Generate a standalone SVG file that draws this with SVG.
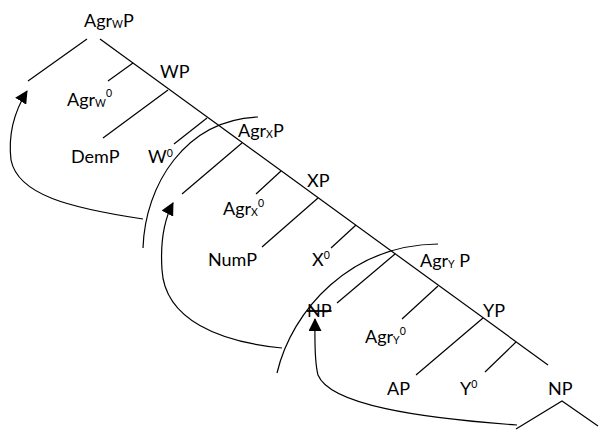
<svg xmlns="http://www.w3.org/2000/svg" width="599" height="430" viewBox="0 0 599 430">
<style>
text{font-family:Lato,"Liberation Sans",sans-serif;font-size:18px;fill:#000}
.s{font-size:10.5px}
.e{stroke:#000;stroke-width:1.2;fill:none}
.a{stroke:#000;stroke-width:1.2;fill:none;marker-end:url(#ah)}
</style>
<defs>
<marker id="ah" markerUnits="userSpaceOnUse" markerWidth="13" markerHeight="13" viewBox="0 0 13 13" refX="12" refY="6.5" orient="auto">
<path d="M0,0 L13,6.5 L0,13 z" fill="#000"/>
</marker>
</defs>
<g id="connectors">
<line class="e" x1="100" y1="39" x2="548" y2="365"/>
<line class="e" x1="87" y1="39" x2="28" y2="81"/>
<line class="e" x1="133" y1="63" x2="108" y2="81"/>
<line class="e" x1="168" y1="90" x2="103" y2="138"/>
<line class="e" x1="207" y1="118" x2="174" y2="144"/>
<line class="e" x1="242" y1="143" x2="182" y2="194"/>
<line class="e" x1="281" y1="171" x2="256" y2="194"/>
<line class="e" x1="318" y1="198" x2="262" y2="247"/>
<line class="e" x1="356" y1="225" x2="331" y2="248"/>
<line class="e" x1="395" y1="254" x2="337" y2="303"/>
<line class="e" x1="438" y1="286" x2="402" y2="319"/>
<line class="e" x1="483" y1="318" x2="416" y2="375"/>
<line class="e" x1="516" y1="342" x2="485" y2="372"/>
<polyline class="e" points="516,429 562,401 598,426"/>
<path class="e" d="M143,248 C145,185 185,120 258,117"/>
<path class="e" d="M277,373 C292,310 350,245 438,244"/>
<path class="a" d="M143,219 C70,208 18,195 11,160 C8,135 14,112 27,91"/>
<path class="a" d="M282,348 C220,342 165,320 162,270 C160,240 164,220 173,203"/>
<path class="a" d="M517,425 C420,418 330,405 318,375 C314,360 315,340 315,319"/>
</g>
<g id="AgrWP"><text x="84" y="27">Agr<tspan class="s" dy="1">W</tspan><tspan dy="-1">P</tspan></text></g>
<g id="WP"><text x="160" y="78">WP</text></g>
<g id="AgrW0"><text x="67" y="106">Agr<tspan class="s" dy="1">W</tspan><tspan class="s" dy="-10">0</tspan></text></g>
<g id="DemP"><text x="71" y="163">DemP</text></g>
<g id="W0"><text x="148" y="163">W<tspan class="s" dy="-6">0</tspan></text></g>
<g id="AgrXP"><text x="238" y="137">Agr<tspan class="s" dy="1">X</tspan><tspan dy="-1">P</tspan></text></g>
<g id="XP"><text x="307" y="187">XP</text></g>
<g id="AgrX0"><text x="223" y="215">Agr<tspan class="s" dy="1">X</tspan><tspan class="s" dy="-9">0</tspan></text></g>
<g id="NumP"><text x="208" y="266">NumP</text></g>
<g id="X0"><text x="312" y="266">X<tspan class="s" dy="-7">0</tspan></text></g>
<g id="AgrYP"><text x="420" y="267">Agr<tspan class="s" dy="1">Y</tspan><tspan dy="-1"> P</tspan></text></g>
<g id="NPtrace"><text x="307" y="317" text-decoration="line-through">NP</text></g>
<g id="AgrY0"><text x="365" y="343">Agr<tspan class="s" dy="1">Y</tspan><tspan class="s" dy="-9">0</tspan></text></g>
<g id="YP"><text x="483" y="317">YP</text></g>
<g id="AP"><text x="387" y="395">AP</text></g>
<g id="Y0"><text x="460" y="395">Y<tspan class="s" dy="-7">0</tspan></text></g>
<g id="NP"><text x="548" y="395">NP</text></g>
</svg>
